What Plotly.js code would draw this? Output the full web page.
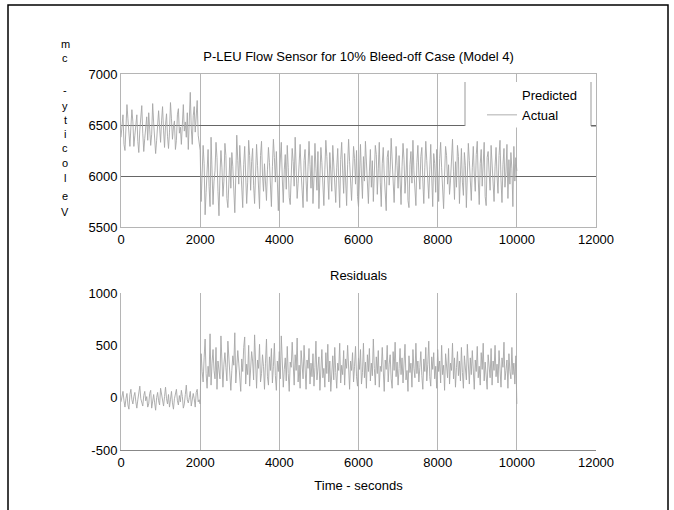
<!DOCTYPE html>
<html>
<head>
<meta charset="utf-8">
<script src="https://cdn.plot.ly/plotly-3.0.1.min.js"></script>
<style>html,body{margin:0;padding:0;background:#fff;}#chart{width:674px;height:510px;}</style>
</head>
<body>
<div id="chart"></div>
<script>
// ---- data ----
const timeStep = 25;            // seconds between samples
const chartTitle = "P-LEU Flow Sensor for 10% Bleed-off Case (Model 4)";
const residualTitle = "Residuals";
const xAxisTitle = "Time - seconds";
const yLabelLetters = ["m","c","-","y","t","i","c","o","l","e","V"];
const xTickVals = [0,2000,4000,6000,8000,10000,12000];
const xTickText = ["0","2000","4000","6000","8000","10000","12000"];
const velTickVals = [5500,6000,6500,7000];
const velTickText = ["5500","6000","6500","7000"];
const resTickVals = [-500,0,500,1000];
const resTickText = ["-500","0","500","1000"];
const seriesNames = ["Predicted","Actual"];

// velocity, t = 0 .. 2000 s
const velocityBefore = [
  6380,6520,6600,6310,6250,6470,6700,6560,6420,6290,
  6480,6650,6530,6290,6400,6550,6600,6340,6230,6450,
  6580,6690,6420,6240,6370,6500,6580,6350,6620,6460,
  6300,6410,6710,6520,6400,6220,6350,6570,6640,6480,
  6330,6540,6680,6450,6280,6500,6610,6390,6270,6430,
  6720,6560,6360,6480,6540,6260,6350,6600,6660,6420,
  6480,6310,6580,6700,6440,6530,6380,6620,6260,6500,
  6820,6470,6310,6590,6680,6430,6550,6740,6400,6330,
  6250];
// velocity, t = 2025 .. 10000 s
const velocityAfter = [
  5750,5980,6300,6120,5620,5840,6150,6260,5900,5700,
  6380,6100,5720,5950,6050,6330,6180,5850,5610,6010,
  6250,6080,5800,5950,6320,6200,5780,5690,6040,6180,
  5880,6230,6090,5760,5640,6000,6400,6150,5920,6300,
  6050,5810,5690,6110,6290,6000,5730,5940,6350,6200,
  5860,6140,6270,5910,5730,6020,6310,6100,5790,5680,
  6200,6340,6010,5850,6120,5920,5760,6060,6280,6130,
  5810,5700,6090,6360,6180,5940,6240,5880,5660,6000,
  6170,6330,5970,5740,6060,6210,5870,6300,6080,5790,
  5720,6010,6270,6140,5900,6380,6050,5780,5930,6220,
  6310,6040,5820,5690,6150,6260,5960,5750,6090,6340,
  6110,5880,6200,5730,5980,6320,6070,5860,6240,5680,
  5990,6280,6130,5800,5710,6060,6350,6190,5940,5770,
  6230,6020,5850,6300,6120,5900,5740,6080,6270,5960,
  5690,6160,6330,6050,5830,6220,5980,5710,6110,6360,
  6140,5870,5760,6020,6290,6170,5920,6250,5800,5700,
  6080,6310,6000,5780,6190,5950,6340,6100,5860,5730,
  6040,6260,5890,6150,5750,5990,6300,6210,5820,6070,
  6330,5940,5700,6120,6280,6010,5790,5660,6180,6250,
  5910,6060,6370,6140,5850,5740,6030,6290,6100,5880,
  6200,5970,5720,6090,6320,6160,5830,6000,6270,5760,
  5690,6110,6240,5930,6350,6050,5800,5710,6130,6300,
  6020,5870,6190,6280,5950,5730,6080,6340,6150,5900,
  5780,6060,6310,5990,5700,6220,6120,5840,6260,6030,
  5750,6170,6330,6080,5860,5680,6010,6290,6200,5920,
  6110,5820,5960,6250,6360,6040,5770,6140,5890,6300,
  6190,5730,6000,6270,5940,5810,6230,6100,5690,6050,
  6320,6150,5880,5760,6080,6290,6010,5850,6210,6340,
  5970,5720,6120,6260,5900,6060,6330,5800,5710,6180,
  6240,6030,5860,6300,6150,5930,5750,6090,6280,6000,
  5830,6200,6350,5960,5740,6110,6270,5890,6040,6310,
  5780,6160,5920,6230,6070,5700,6290,5950,6180,6050];
// residuals, t = 0 .. 2000 s
const residualBefore = [
  -40,20,60,-30,-90,-10,40,-70,-110,30,
  80,-20,-60,10,50,-40,-100,-20,70,110,
  -10,-50,-80,20,60,-30,10,-90,-60,40,
  70,-100,-20,30,-50,-120,0,50,-30,-70,
  90,20,-40,-80,10,100,-10,-60,30,-90,
  -20,60,-50,-110,-10,40,80,-30,-70,20,
  -40,70,10,-100,-60,30,120,-20,-50,0,
  60,-80,-30,40,-10,-90,50,80,-40,-20,
  -60];
// residuals, t = 2025 .. 10000 s
const residualAfter = [
  420,250,150,380,560,230,90,300,200,610,
  120,330,460,260,180,480,80,350,270,180,
  590,240,100,320,430,290,160,540,380,210,
  70,260,400,310,620,140,270,450,330,190,
  60,370,250,480,580,130,320,220,500,110,
  290,440,350,170,600,240,90,360,280,510,
  150,230,410,300,80,330,560,200,120,390,
  260,470,140,300,520,210,70,350,250,440,
  180,590,310,100,270,380,160,490,230,60,
  340,290,530,200,120,410,260,570,150,310,
  90,450,240,180,500,220,80,360,280,470,
  130,330,200,420,110,290,540,170,250,390,
  70,320,460,190,280,100,430,230,510,150,
  350,60,290,400,170,480,240,90,330,260,
  520,140,310,220,450,120,370,280,500,180,
  80,350,260,430,150,300,490,200,110,380,
  270,460,130,240,520,190,340,90,410,250,
  470,160,330,210,560,280,120,390,230,450,
  100,300,250,480,190,60,360,270,500,150,
  320,410,180,90,440,260,530,200,340,120,
  280,470,220,380,140,300,510,170,260,60,
  400,240,330,100,460,280,190,520,230,350,
  150,290,440,210,80,370,250,480,160,320,
  540,200,110,390,270,430,180,300,90,460,
  250,350,140,500,220,310,70,420,280,190,
  470,130,330,260,520,180,380,100,290,440,
  210,350,160,480,240,90,400,300,170,510,
  270,130,380,220,450,310,80,360,250,490,
  190,300,120,430,270,520,160,340,230,80,
  410,280,190,470,120,350,260,500,200,320,
  140,450,230,100,380,290,530,170,260,360,
  90,420,250,180,480,220,330,130,400,-60];

const velocity = velocityBefore.concat(velocityAfter);
const residual = residualBefore.concat(residualAfter);
const time = velocity.map((_, i) => i * timeStep);
const timeRes = residual.map((_, i) => i * timeStep);

// ---- layout helpers (pixel -> paper) ----
const W = 674, H = 510;
const M = {l: 121, r: 78, t: 74, b: 60};
const PW = W - M.l - M.r, PH = H - M.t - M.b;
const px = x => (x - M.l) / PW;
const py = y => (H - M.b - y) / PH;

const FONT = "Liberation Sans, Arial, Helvetica, sans-serif";
const LINE = "#a6a6a6";
const traces = [
  {x: [0], y: [null], type: "scatter", mode: "lines", name: seriesNames[0],
   line: {color: "rgba(255,255,255,0)", width: 1}, xaxis: "x", yaxis: "y"},
  {x: time, y: velocity, type: "scatter", mode: "lines", name: seriesNames[1],
   line: {color: LINE, width: 0.9}, xaxis: "x", yaxis: "y"},
  {x: timeRes, y: residual, type: "scatter", mode: "lines", name: "Residual", showlegend: false,
   line: {color: LINE, width: 0.9}, xaxis: "x2", yaxis: "y2"}
];

const annotations = [
  {text: residualTitle, xref: "paper", yref: "paper", x: 0.5, y: py(275), showarrow: false,
   xanchor: "center", yanchor: "middle", font: {size: 13, color: "#000", family: FONT}}
];
const letterY = [44, 58, 90, 106, 120, 134, 148, 163, 178, 196, 212];
yLabelLetters.forEach((ch, i) => {
  annotations.push({text: ch, xref: "paper", yref: "paper", x: px(65), y: py(letterY[i]),
    showarrow: false, xanchor: "center", yanchor: "middle", borderpad: 0,
    font: {size: 11, color: "#000", family: FONT}});
});

const shapes = [
  // legend box background + side borders
  {type: "rect", xref: "paper", yref: "paper", x0: px(465), x1: px(591), y0: py(127.5), y1: py(82),
   fillcolor: "#fff", line: {width: 0}, layer: "above"},
  {type: "line", xref: "paper", yref: "paper", x0: px(465), x1: px(465), y0: py(126), y1: py(82),
   line: {color: "#999", width: 1}, layer: "above"},
  {type: "line", xref: "paper", yref: "paper", x0: px(591), x1: px(591), y0: py(126), y1: py(82),
   line: {color: "#999", width: 1}, layer: "above"},
  {type: "line", xref: "paper", yref: "paper", x0: px(591), x1: px(596), y0: py(126), y1: py(126),
   line: {color: "#666", width: 1}, layer: "above"},
  // outer frame
  {type: "rect", xref: "paper", yref: "paper", x0: px(8), x1: px(668), y0: py(520), y1: py(5),
   line: {color: "#000", width: 1.5}, fillcolor: "rgba(0,0,0,0)"}
];

const layout = {
  width: W, height: H,
  margin: M,
  paper_bgcolor: "#fff", plot_bgcolor: "#fff",
  font: {family: FONT, size: 13, color: "#000"},
  title: {text: chartTitle, x: (358.5) / W, xanchor: "center",
          y: 1 - 56 / H, yanchor: "middle", font: {size: 13, color: "#000", family: FONT}},
  showlegend: true,
  legend: {x: px(482), y: py(80), xanchor: "left", yanchor: "top",
           bgcolor: "rgba(0,0,0,0)", borderwidth: 0, traceorder: "normal",
           font: {size: 13, color: "#000", family: FONT}},
  xaxis: {domain: [0, 1], anchor: "y", range: [0, 12000], tickvals: xTickVals, ticktext: xTickText,
          showgrid: true, gridcolor: "#b5b5b5", gridwidth: 1,
          showline: true, linecolor: "#b5b5b5", linewidth: 1, mirror: true,
          ticks: "", zeroline: false, tickfont: {size: 13}},
  yaxis: {domain: [py(227), 1], anchor: "x", range: [5500, 7000], tickvals: velTickVals, ticktext: velTickText,
          showgrid: true, gridcolor: "#666", gridwidth: 1,
          showline: true, linecolor: "#b5b5b5", linewidth: 1, mirror: true,
          ticks: "", zeroline: false, tickfont: {size: 13}},
  xaxis2: {domain: [0, 1], anchor: "y2", range: [0, 12000], tickvals: xTickVals, ticktext: xTickText,
           showgrid: true, gridcolor: "#b5b5b5", gridwidth: 1,
           showline: true, linecolor: "#888", linewidth: 1,
           ticks: "", zeroline: false, tickfont: {size: 13},
           title: {text: xAxisTitle, font: {size: 13, color: "#000"}, standoff: 12}},
  yaxis2: {domain: [0, py(293)], anchor: "x2", range: [-500, 1000], tickvals: resTickVals, ticktext: resTickText,
           showgrid: false, showline: true, linecolor: "#b5b5b5", linewidth: 1,
           ticks: "", zeroline: false, tickfont: {size: 13}},
  annotations: annotations,
  shapes: shapes
};

Plotly.newPlot("chart", traces, layout, {displayModeBar: false, staticPlot: true});
</script>
</body>
</html>
